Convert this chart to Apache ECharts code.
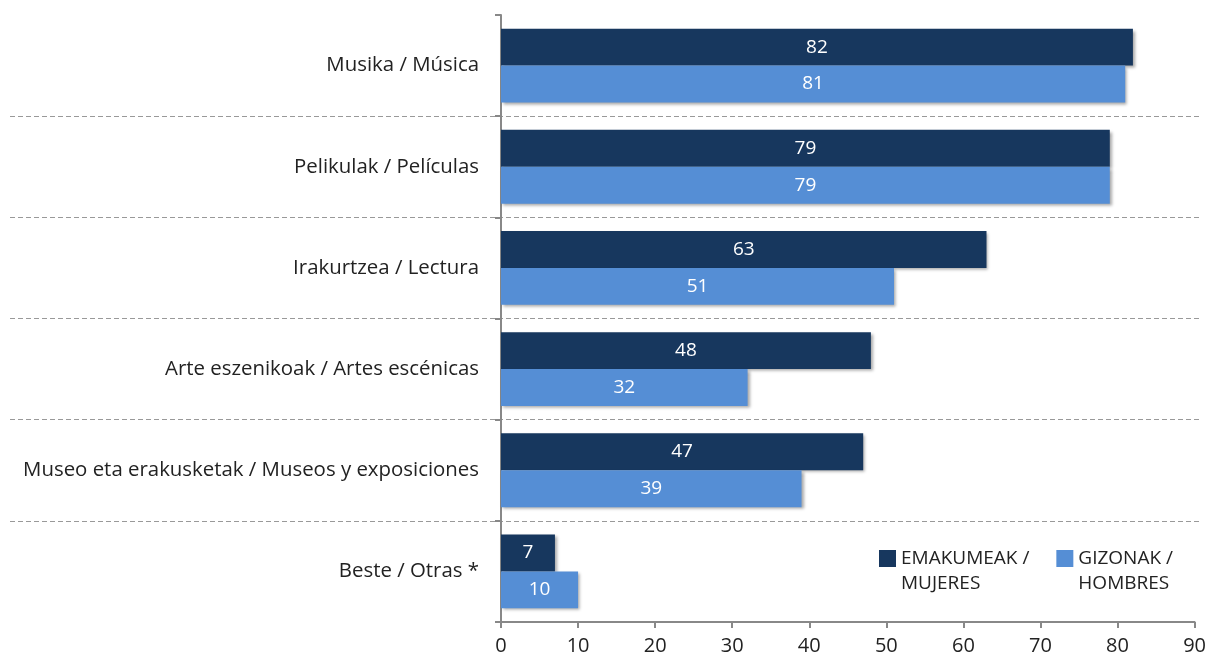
<!DOCTYPE html>
<html><head><meta charset="utf-8">
<script src="https://cdn.jsdelivr.net/npm/echarts@6/dist/echarts.min.js"></script>
<style>html,body{margin:0;padding:0;background:#fff}#c{width:1209px;height:662px}</style>
</head><body><div id="c"></div>
<script>
const categories = ["Musika / Música","Pelikulak / Películas","Irakurtzea / Lectura","Arte eszenikoak / Artes escénicas","Museo eta erakusketak / Museos y exposiciones","Beste / Otras *"];
const women = [82,79,63,48,47,7];
const men = [81,79,51,32,39,10];
const seriesNames = ["EMAKUMEAK /\nMUJERES","GIZONAK /\nHOMBRES"];
const xTicks = {min:0,max:90,interval:10};
const FONT = "'Open Sans', sans-serif";
const chart = echarts.init(document.getElementById('c'));
const barShadow = {shadowBlur:3, shadowOffsetX:2, shadowOffsetY:2, shadowColor:'rgba(0,0,0,0.35)'};
chart.setOption({
  animation:false,
  grid:[{left:501,right:14,top:15,bottom:40},{left:10,right:8,top:15,bottom:40}],
  legend:{left:879,top:521,padding:0,itemWidth:17,itemHeight:17,itemGap:27,icon:'rect',
    data:seriesNames,
    formatter: name => '\n' + name,
    textStyle:{fontFamily:FONT,fontSize:19,color:'#222',lineHeight:25}},
  xAxis:[{type:'value',gridIndex:0,min:xTicks.min,max:xTicks.max,interval:xTicks.interval,
    axisLine:{show:true,lineStyle:{color:'#888',width:2}},
    axisTick:{show:true,length:6,lineStyle:{color:'#888',width:2}},
    axisLabel:{fontFamily:FONT,fontSize:20,color:'#222',margin:14},
    splitLine:{show:false}},
    {type:'value',gridIndex:1,min:0,max:1,show:false}],
  yAxis:[{type:'category',gridIndex:0,data:categories,inverse:true,
    axisLine:{show:true,lineStyle:{color:'#888',width:2}},
    axisTick:{show:true,length:6,lineStyle:{color:'#888',width:2}},
    axisLabel:{fontFamily:FONT,fontSize:20.4,color:'#222',margin:22},
    splitLine:{show:false}},
    {type:'value',gridIndex:1,min:0,max:6,interval:1,inverse:true,
    axisLine:{show:false},axisTick:{show:false},axisLabel:{show:false},
    splitLine:{show:true,showMinLine:false,showMaxLine:false,lineStyle:{color:'#999',type:[5,3],width:1}}}],
  series:[
    {name:seriesNames[0],type:'bar',data:women,barGap:'0%',barCategoryGap:'27%',
     itemStyle:Object.assign({color:'#17375e'},barShadow),
     label:{show:true,position:'inside',color:'#fff',fontFamily:FONT,fontSize:19}},
    {name:seriesNames[1],type:'bar',data:men,barGap:'0%',barCategoryGap:'27%',
     itemStyle:Object.assign({color:'#558ed5'},barShadow),
     label:{show:true,position:'inside',color:'#fff',fontFamily:FONT,fontSize:19}}
  ]
});
</script></body></html>
